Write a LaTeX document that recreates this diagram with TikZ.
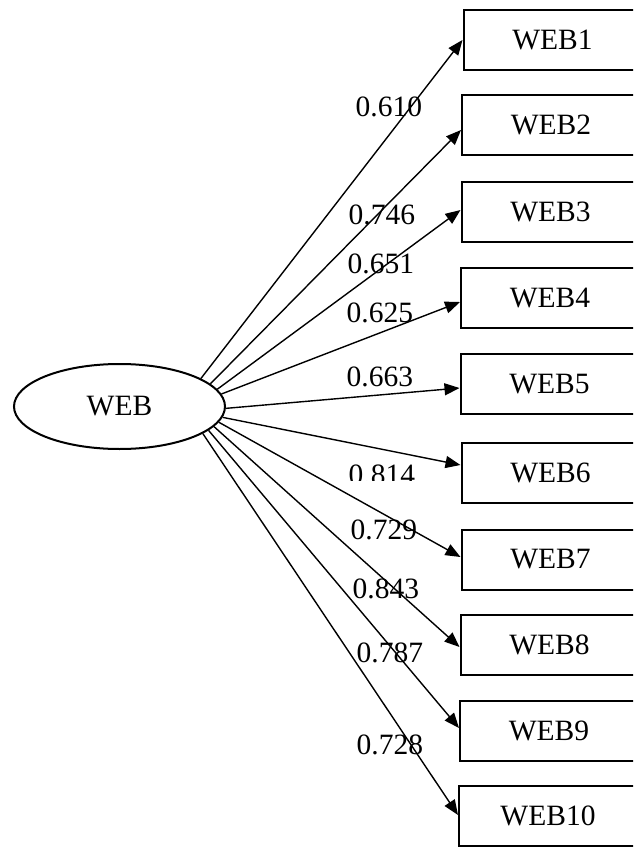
\documentclass[tikz,border=0pt]{standalone}
\usepackage{fontspec}
\setmainfont{Liberation Serif}
\usetikzlibrary{shapes.geometric,arrows.meta,calc}
\begin{document}
\begin{tikzpicture}[x=1pt,y=-1pt,
  every node/.style={font=\fontsize{29.5}{34}\selectfont},
  latent/.style={ellipse,draw,line width=2pt,minimum width=211pt,minimum height=85pt,inner sep=0pt},
  indicator/.style={rectangle,draw,line width=2pt,minimum width=178pt,minimum height=60pt,inner sep=0pt},
  loading/.style={arrows={-Triangle[length=15pt,width=12pt]},line width=1.4pt},
  coef/.style={anchor=base west,inner sep=0pt}]
\clip (0,0) rectangle (633,848);

% latent factor
\node[latent] (web) at (119.5,406.5) {WEB};

% observed indicators
\node[indicator] (b1)  at (552.5,40)   {WEB1};
\node[indicator] (b2)  at (551,125)    {WEB2};
\node[indicator] (b3)  at (550.5,211.5){WEB3};
\node[indicator] (b4)  at (550,298)    {WEB4};
\node[indicator] (b5)  at (549.5,384)  {WEB5};
\node[indicator] (b6)  at (550.5,473)  {WEB6};
\node[indicator] (b7)  at (550.5,559.5){WEB7};
\node[indicator] (b8)  at (549.5,644.5){WEB8};
\node[indicator] (b9)  at (549,731)    {WEB9};
\node[indicator] (b10) at (548,816)    {WEB10};

% factor loadings
\foreach \i/\a/\d in {1/19/0, 2/14/5, 3/10/-1.5, 4/7/4, 5/359/4,
                      6/354/-8, 7/351/-2.5, 8/348/2.5, 9/345/-3, 10/342/-1}
  \draw[loading] (web.\a) -- ($(b\i.west)+(0,\d)$);

% loading coefficients
\node[coef] (l1)  at (355.5,117) {0.610};
\node[coef] (l2)  at (348.5,224) {0.746};
\node[coef] (l3)  at (347.5,273) {0.651};
\node[coef] (l4)  at (346.5,322) {0.625};
\node[coef] (l5)  at (346.5,386) {0.663};
\begin{scope}
  \clip (330,440) rectangle (440,480);
  \node[coef] (l6) at (348.5,484) {0.814};
\end{scope}
\node[coef] (l7)  at (350.5,539) {0.729};
\node[coef] (l8)  at (352.5,598) {0.843};
\node[coef] (l9)  at (356.5,662) {0.787};
\node[coef] (l10) at (356.5,754) {0.728};
\end{tikzpicture}
\end{document}
